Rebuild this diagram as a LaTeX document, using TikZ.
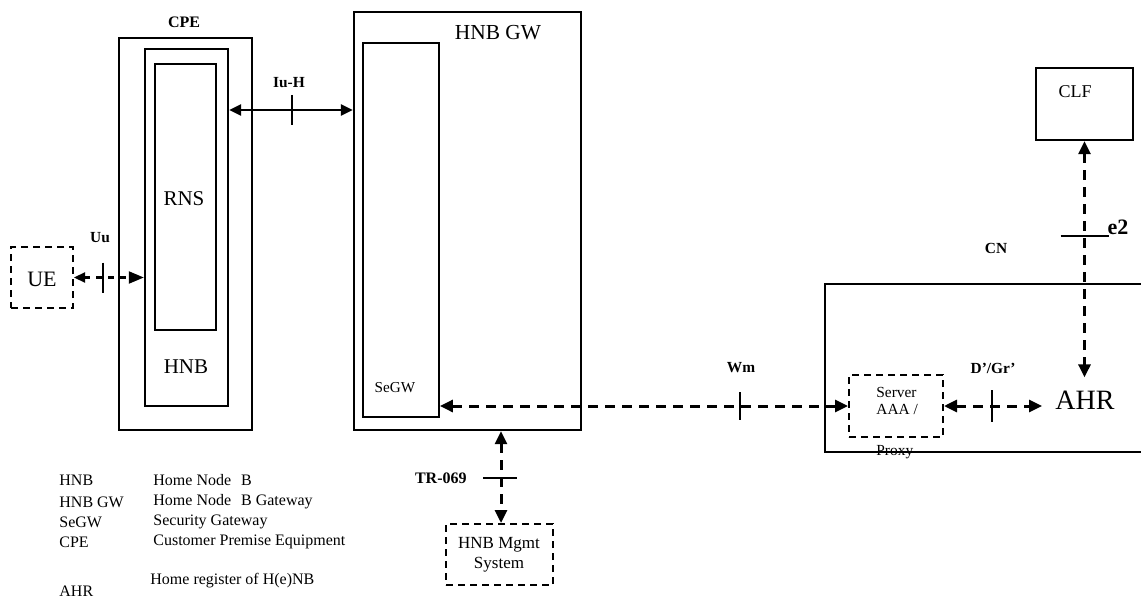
\documentclass[tikz,border=0pt]{standalone}
\usepackage{fontspec}
\setmainfont{Liberation Serif}
\usetikzlibrary{arrows.meta,fit,calc}
\begin{document}
\begin{tikzpicture}[x=0.5pt,y=-0.5pt,
  box/.style={draw,line width=1.2pt,inner sep=0pt},
  thinbox/.style={draw,line width=0.9pt,inner sep=0pt},
  dbox/.style={draw,line width=1pt,dash pattern=on 3.5pt off 2.5pt,inner sep=0pt},
  lbl/.style={inner sep=0pt,font=\fontsize{7.7pt}{9pt}\selectfont\bfseries},
  txt/.style={inner sep=0pt},
  legend/.style={inner sep=0pt,anchor=west,font=\fontsize{8pt}{9.6pt}\selectfont},
  solidarrow/.style={line width=1.3pt,{Triangle[length=6pt,width=5.5pt]}-{Triangle[length=6pt,width=5.5pt]}},
  darrow/.style={line width=1.5pt,dash pattern=on 5pt off 3.5pt,{Triangle[length=6.5pt,width=6pt]}-{Triangle[length=6.5pt,width=6pt]}},
  uuarrow/.style={line width=1.1pt,dash pattern=on 3pt off 3pt,{Triangle[length=5.5pt,width=5pt]}-{Triangle[length=7.5pt,width=6pt]}},
  tickline/.style={line width=1pt}
]
\useasboundingbox (0,0) rectangle (1141,599);
\fill[white] (0,0) rectangle (1141,599);

% CPE / HNB / RNS
\node[box,fit={(119,38) (252,430)}] (cpe) {};
\node[lbl,font=\fontsize{8pt}{9.6pt}\selectfont\bfseries] (cpel) at (184,22) {CPE};
\node[box,fit={(145,49) (228,406)}] (hnb) {};
\node[txt,font=\fontsize{10.5pt}{12pt}\selectfont] (hnbl) at (186,367) {HNB};
\node[thinbox,fit={(155,64) (216,330)}] (rns) {};
\node[txt,font=\fontsize{10.5pt}{12pt}\selectfont] (rnsl) at (184,199) {RNS};

% HNB GW / SeGW
\node[box,fit={(354,12) (581,430)}] (gw) {};
\node[txt,font=\fontsize{10.7pt}{12pt}\selectfont] (gwl) at (498,33) {HNB GW};
\node[thinbox,fit={(363,43) (439,417)}] (segw) {};
\node[txt,font=\fontsize{7.6pt}{9pt}\selectfont] (segwl) at (395,388) {SeGW};

% UE
\node[dbox,fit={(11,247) (73,308)}] (ue) {};
\node[txt,font=\fontsize{11pt}{13pt}\selectfont] (uel) at (42,279) {UE};

% HNB Mgmt
\node[dbox,fit={(446,524) (553,585)}] (mgmt) {};
\node[txt,align=center,font=\fontsize{8.5pt}{10pt}\selectfont] (mgmtl) at (499,555) {HNB Mgmt\\System};

% CN
\node[box,fit={(825,284) (1170,452)}] (cn) {};
\node[lbl] (cnl) at (996,248) {CN};

% CLF
\node[box,fit={(1036,68) (1133,140)}] (clf) {};
\node[txt,font=\fontsize{9pt}{11pt}\selectfont] (clfl) at (1075,92) {CLF};

% AAA
\node[dbox,fit={(849,375) (943,437)}] (aaa) {};
\node[txt,anchor=west,font=\fontsize{7.7pt}{9pt}\selectfont] (aaa1) at (876,392) {Server};
\node[txt,anchor=west,font=\fontsize{7.7pt}{9pt}\selectfont] (aaa2) at (876,409) {AAA /};
\node[txt,anchor=west,font=\fontsize{7.7pt}{9pt}\selectfont] (aaa3) at (876,452) {Proxy};

% AHR
\node[inner sep=6.5pt,font=\fontsize{14pt}{16pt}\selectfont] (ahr) at (1085,400) {AHR};

% Iu-H
\coordinate (iuh) at (292,110);
\draw[solidarrow] (iuh -| hnb.east) -- (iuh -| gw.west);
\draw[tickline] ($(iuh)+(0,-15)$) -- ($(iuh)+(0,15)$);
\node[lbl] (iuhl) at (289,83) {Iu-H};

% Uu
\coordinate (uu) at (103,277.5);
\draw[uuarrow] (ue.east) -- (ue.east -| hnb.west);
\draw[tickline] ($(uu)+(0,-15)$) -- ($(uu)+(0,15)$);
\node[lbl] (uul) at (100,238) {Uu};

% Wm
\coordinate (wm) at (740,406);
\draw[darrow] (aaa.west -| segw.east) -- (aaa.west);
\draw[tickline] ($(wm)+(0,-14)$) -- ($(wm)+(0,14)$);
\node[lbl] (wml) at (741,368) {Wm};

% D'/Gr'
\coordinate (dgr) at (992,406);
\draw[darrow] (aaa.east) -- (aaa.east -| ahr.west);
\draw[tickline] ($(dgr)+(0,-16)$) -- ($(dgr)+(0,16)$);
\node[lbl] (dgrl) at (993,368) {D’/Gr’};

% e2
\coordinate (e2) at (1084.5,236);
\draw[darrow] (clf.south) -- (clf.south |- ahr.north);
\draw[tickline,line width=1.1pt] ($(e2)+(-24,0)$) -- ($(e2)+(24,0)$);
\node[lbl,font=\fontsize{11pt}{13pt}\selectfont\bfseries] (e2l) at (1118,227) {e2};

% TR-069
\coordinate (tr) at (501,478);
\draw[darrow] (tr |- gw.south) -- (tr |- mgmt.north);
\draw[tickline] ($(tr)+(-18,0)$) -- ($(tr)+(16,0)$);
\node[lbl,anchor=east,font=\fontsize{8pt}{9.6pt}\selectfont\bfseries] (trl) at (467,478) {TR-069};

% Legend
\node[legend] (lg1a) at (59,480) {HNB};
\node[legend] (lg1b) at (153,480) {Home Node\hspace{5pt}B};
\node[legend] (lg2a) at (59,502) {HNB GW};
\node[legend] (lg2b) at (153,502) {Home Node\hspace{5pt}B Gateway};
\node[legend] (lg3a) at (59,522) {SeGW};
\node[legend] (lg3b) at (153,522) {Security Gateway};
\node[legend] (lg4a) at (59,542) {CPE};
\node[legend] (lg4b) at (153,542) {Customer Premise Equipment};
\node[legend] (lg5a) at (59,591) {AHR};
\node[legend] (lg5b) at (150,581) {Home register of H(e)NB};
\end{tikzpicture}
\end{document}
